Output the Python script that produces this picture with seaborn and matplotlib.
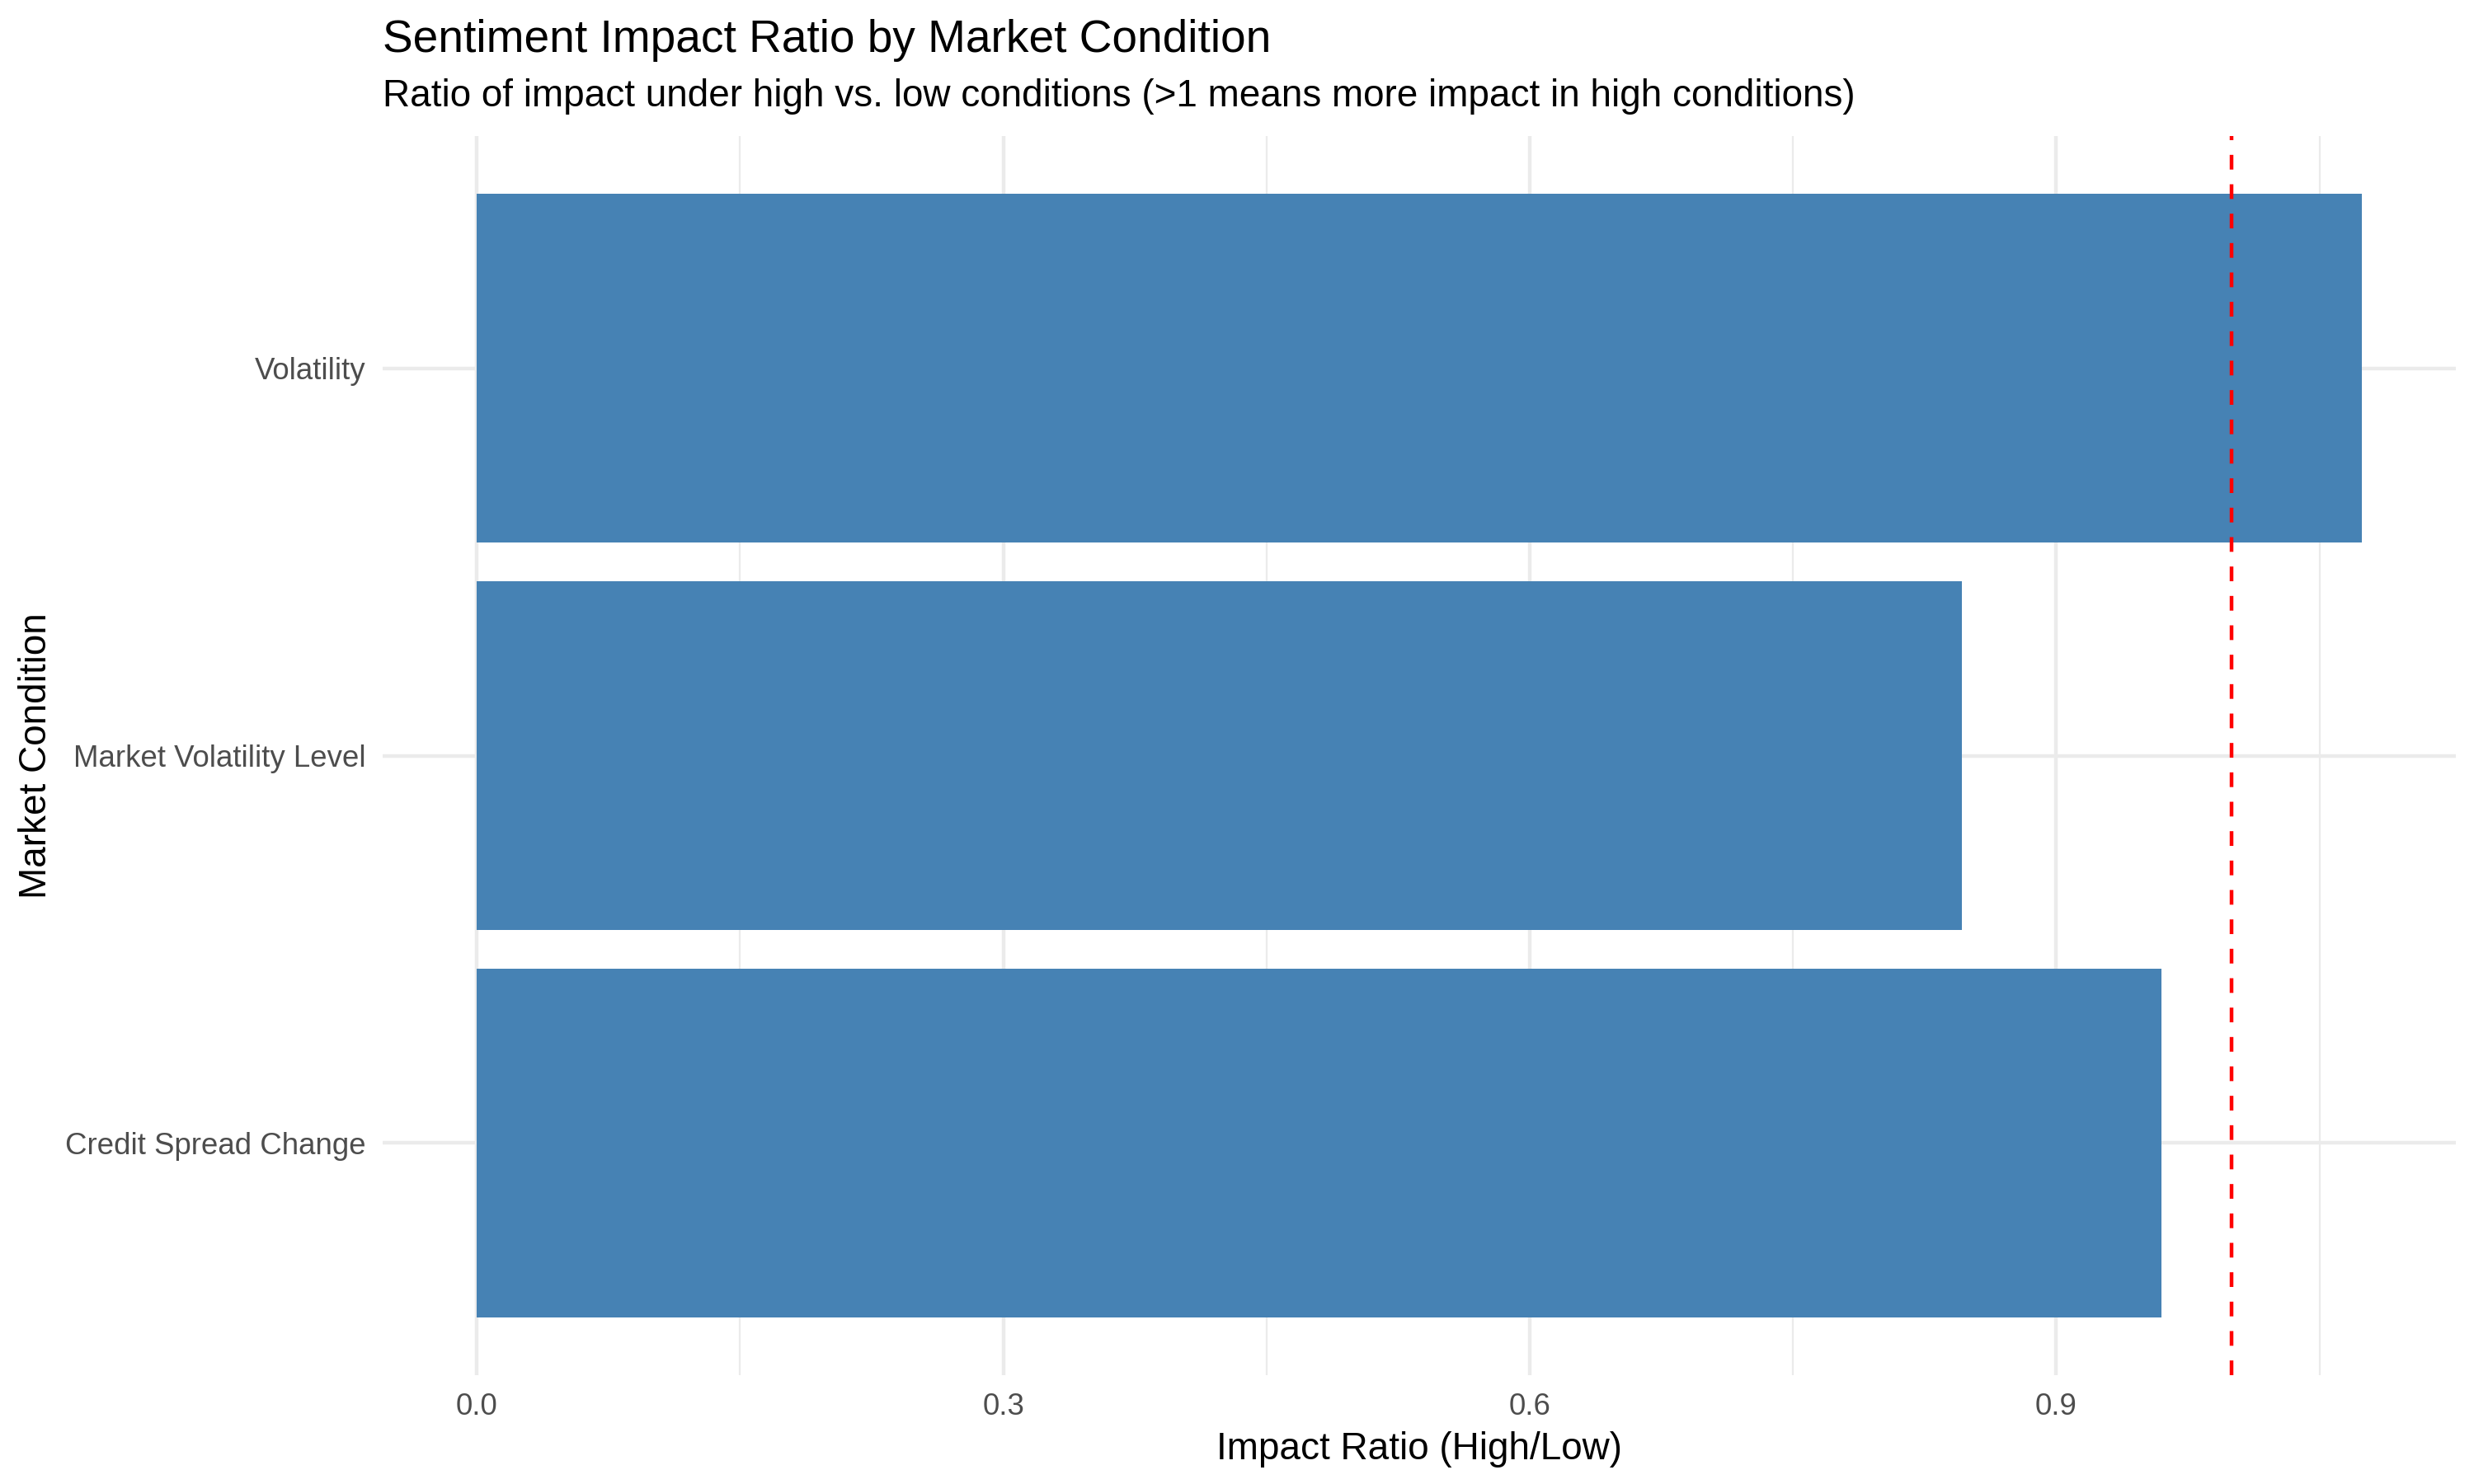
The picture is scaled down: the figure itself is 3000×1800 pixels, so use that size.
import matplotlib
matplotlib.use("Agg")
import matplotlib.pyplot as plt
import seaborn as sns
import pandas as pd

# Data
conditions = ["Volatility", "Market Volatility Level", "Credit Spread Change"]
ratios = [1.074, 0.846, 0.960]
x_ticks = [0.0, 0.3, 0.6, 0.9]
x_tick_labels = ["0.0", "0.3", "0.6", "0.9"]
x_minor = [0.15, 0.45, 0.75, 1.05]
reference_value = 1.0

title = "Sentiment Impact Ratio by Market Condition"
subtitle = "Ratio of impact under high vs. low conditions (>1 means more impact in high conditions)"

df = pd.DataFrame({"condition": conditions, "ratio": ratios})

sns.set_theme(style="white")
plt.rcParams["font.family"] = ["Liberation Sans", "DejaVu Sans"]

W, H = 3000, 1800
fig = plt.figure(figsize=(10, 6), dpi=300)
left, right, top, bottom = 464, 2978, 165, 1668
ax = fig.add_axes([left / W, 1 - bottom / H, (right - left) / W, (bottom - top) / H])

sns.barplot(data=df, x="ratio", y="condition", order=conditions, orient="h",
            color="#4682B4", saturation=1, width=0.9, ax=ax, zorder=2,
            linewidth=0, edgecolor="none")

ax.axvline(reference_value, color="red", linestyle=(0, (4, 4)), linewidth=1.07, zorder=3)

xmax = max(ratios)
span = xmax - 0
ax.set_xlim(0 - 0.05 * span, xmax + 0.05 * span)
ax.set_ylim(len(conditions) - 1 + 0.6, -0.6)

ax.set_xticks(x_ticks)
ax.set_xticklabels(x_tick_labels)
ax.set_xticks(x_minor, minor=True)
ax.set_axisbelow(True)
ax.grid(which="major", axis="both", color="#EBEBEB", linewidth=1.07, zorder=0)
ax.grid(which="minor", axis="x", color="#EBEBEB", linewidth=0.53, zorder=0)
for s in ax.spines.values():
    s.set_visible(False)
ax.tick_params(axis="both", which="both", length=0, pad=5, labelsize=8.8, labelcolor="#4D4D4D")

ax.set_xlabel("Impact Ratio (High/Low)", fontsize=11, color="black", labelpad=3)
ax.set_ylabel("Market Condition", fontsize=11, color="black", labelpad=3)

fig.text(left / W, 1 - 63 / H, title, fontsize=13.2, color="black", ha="left", va="baseline")
fig.text(left / W, 1 - 129 / H, subtitle, fontsize=11, color="black", ha="left", va="baseline")

fig.savefig("out.png", dpi=300, facecolor="white")
